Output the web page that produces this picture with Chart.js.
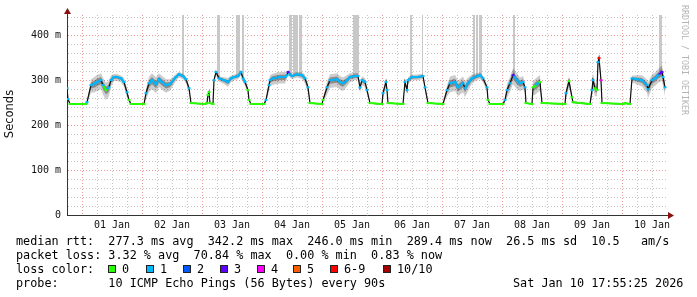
<!DOCTYPE html>
<html>
<head>
<meta charset="utf-8">
<script src="https://cdn.jsdelivr.net/npm/chart.js@4.4.1/dist/chart.umd.min.js"></script>
<style>
  body { margin: 0; background: #fff; }
  canvas { display: block; }
</style>
</head>
<body>
<canvas id="chart" width="697" height="297"></canvas>
<script>
// --- Data (hours since 01 Jan 00:00) ---
const hours = [
  -6.0, -5.6, -4.8, 1.6, 2.0, 3.6, 5.2, 6.0, 7.6, 8.4, 9.6, 10.8, 11.6, 12.8, 14.0, 15.6, 16.8, 18.0, 18.8, 19.6,
  24.8, 25.6, 26.8, 28.0, 29.6, 30.8, 32.0, 33.6, 35.2, 37.6, 38.8, 40.4, 41.6, 42.8, 43.6,
  49.2, 50.0, 50.4, 50.8, 51.2, 52.4, 52.8, 53.6, 54.8, 56.8, 58.4, 59.6, 60.8, 62.4, 63.6, 64.4, 65.2, 66.4, 66.8, 67.6,
  72.8, 73.6, 74.8, 75.2, 76.4, 79.2, 81.2, 82.0, 82.4, 84.0, 86.0, 88.0, 89.2, 90.4, 91.2,
  96.0, 96.4, 98.0, 99.2, 102.0, 103.2, 104.4, 106.0, 107.2, 109.2, 110.4, 111.2, 112.0, 113.2, 114.0, 115.2,
  120.0, 120.4, 121.6, 122.0, 122.4, 128.4, 129.2, 130.0, 130.4, 132.0, 134.0, 136.4, 137.2, 138.4,
  144.4, 146.0, 147.2, 149.2, 150.4, 152.4, 153.2, 154.4, 156.0, 158.0, 159.2, 160.4, 162.0, 162.4, 163.2,
  168.4, 169.2, 170.0, 171.2, 172.4, 174.0, 175.2, 176.4, 177.2, 177.6, 180.0, 180.4, 181.2, 182.4, 183.2, 184.0,
  193.2, 193.6, 194.8, 196.0, 196.4, 203.2, 204.0, 204.4, 205.2, 206.0, 206.4, 206.8, 207.6, 208.0,
  216.4, 217.2, 219.2, 220.0, 222.0, 224.0, 226.0, 226.4, 228.0, 229.2, 230.4, 232.0, 232.4, 233.2
];
// median rtt in ms
const rtt = [
  282, 258, 247, 247, 251, 289, 293, 296, 300, 289, 278, 284, 300, 307, 307, 304, 296, 273, 256, 247,
  247, 271, 293, 300, 291, 302, 296, 289, 291, 307, 313, 309, 302, 282, 249,
  247, 249, 267, 273, 249, 247, 300, 318, 304, 300, 296, 304, 307, 309, 318, 304, 296, 278, 256, 247,
  247, 256, 289, 300, 304, 307, 307, 311, 318, 309, 313, 311, 304, 284, 249,
  247, 256, 284, 300, 302, 296, 293, 300, 307, 309, 309, 284, 300, 296, 278, 249,
  247, 271, 296, 278, 249, 247, 296, 278, 300, 307, 307, 309, 284, 249,
  247, 278, 293, 296, 284, 293, 282, 293, 304, 309, 311, 304, 284, 256, 247,
  247, 256, 278, 293, 311, 300, 293, 296, 284, 249, 247, 284, 287, 293, 296, 249,
  247, 271, 298, 262, 251, 247, 278, 300, 282, 278, 340, 349, 300, 249,
  247, 249, 247, 304, 302, 300, 289, 280, 300, 304, 311, 318, 307, 284
];
// lost pings out of 10
const loss = [
  1, 1, 0, 0, 1, 1, 1, 1, 1, 1, 0, 1, 1, 1, 1, 1, 1, 1, 0, 0,
  0, 1, 1, 1, 1, 1, 1, 1, 1, 1, 1, 1, 1, 1, 0,
  0, 0, 0, 0, 0, 0, 1, 1, 1, 1, 1, 1, 1, 1, 1, 1, 1, 0, 0, 0,
  0, 1, 1, 1, 1, 1, 1, 1, 3, 1, 1, 1, 1, 1, 0,
  0, 0, 1, 1, 1, 1, 1, 1, 1, 1, 1, 1, 1, 1, 1, 0,
  0, 1, 1, 1, 0, 0, 1, 1, 1, 1, 1, 1, 1, 0,
  0, 1, 1, 1, 1, 1, 1, 1, 1, 1, 1, 1, 1, 0, 0,
  0, 1, 1, 1, 3, 1, 1, 1, 1, 0, 0, 0, 0, 1, 0, 0,
  0, 1, 0, 0, 0, 0, 1, 1, 0, 0, 1, 7, 4, 0,
  0, 0, 0, 1, 1, 1, 1, 1, 1, 1, 1, 3, 1, 1
];
// smoke half-spread in ms
const smoke = [
  8, 4, 1, 1, 3, 12, 14, 14, 14, 15, 15, 14, 10, 6, 6, 6, 8, 8, 4, 1,
  1, 10, 14, 14, 14, 12, 12, 12, 10, 6, 5, 5, 6, 6, 1,
  1, 1, 6, 6, 1, 1, 4, 5, 5, 6, 8, 6, 5, 5, 5, 6, 6, 6, 3, 1,
  1, 4, 10, 10, 10, 10, 10, 6, 5, 5, 5, 6, 8, 8, 1,
  1, 4, 12, 12, 12, 12, 12, 10, 8, 6, 6, 8, 8, 8, 6, 1,
  1, 8, 8, 6, 1, 1, 6, 6, 6, 5, 5, 5, 6, 1,
  1, 10, 14, 14, 14, 14, 14, 12, 8, 6, 6, 6, 6, 3, 1,
  1, 4, 12, 14, 14, 14, 12, 12, 8, 1, 1, 12, 14, 14, 14, 1,
  1, 10, 10, 6, 2, 1, 12, 14, 12, 10, 8, 8, 8, 1,
  1, 2, 1, 6, 8, 10, 12, 14, 12, 12, 12, 14, 14, 14
];

// Light grey columns where the smoke runs off the top of the graph
const spikeFrom = [40.0, 54.0, 61.6, 64.0, 82.8, 84.4, 86.8, 108.4, 131.2, 136.0, 156.4, 157.6, 158.8, 172.4, 230.8];
const spikeTo   = [40.8, 55.2, 63.2, 64.8, 84.0, 86.4, 88.0, 110.8, 132.0, 136.4, 157.2, 158.4, 160.0, 173.2, 232.0];
const spikeBase = [309, 304, 309, 304, 309, 313, 311, 309, 307, 309, 309, 309, 311, 311, 318];

const lossLabels = ['0', '1', '2', '3', '4', '5', '6-9', '10/10'];
const lossColors = ['#26ff00', '#00b8ff', '#0059ff', '#5e00ff', '#ff00fe', '#ff5e00', '#ff0000', '#a10000'];

const statLines = [
  'median rtt:  277.3 ms avg  342.2 ms max  246.0 ms min  289.4 ms now  26.5 ms sd  10.5   am/s',
  'packet loss: 3.32 % avg  70.84 % max  0.00 % min  0.83 % now',
  'loss color:',
  'probe:       10 ICMP Echo Pings (56 Bytes) every 90s'
];
const stampText = 'Sat Jan 10 17:55:25 2026';

const X_MIN = -6, X_MAX = 234, Y_MAX = 445;
const MONO = '"DejaVu Sans Mono", monospace';
const MAJOR_GRID = 'rgba(225,110,110,0.7)';
const MINOR_GRID = '#c6c6c6';

function lossColor(n) {
  if (n >= 10) return lossColors[7];
  if (n >= 6) return lossColors[6];
  return lossColors[n];
}

function dayLabel(h) {
  const d = Math.floor(h / 24) + 1;
  return (d < 10 ? '0' + d : '' + d) + ' Jan';
}

const median = hours.map((h, i) => ({ x: h, y: rtt[i] }));
const band = (k) => [
  hours.map((h, i) => ({ x: h, y: rtt[i] + smoke[i] * k })),
  hours.map((h, i) => ({ x: h, y: rtt[i] - smoke[i] * k * 1.3 }))
];
const [innerHi, innerLo] = band(0.5);
const [outerHi, outerLo] = band(1.1);

const datasets = [
  {
    // loss coloured median
    data: median,
    borderWidth: 2,
    pointStyle: 'line',
    pointRadius: 1.5,
    pointBorderWidth: 2,
    pointBorderColor: ctx => lossColor(loss[ctx.dataIndex]),
    segment: {
      borderColor: ctx => {
        const dx = Math.abs(ctx.p1.x - ctx.p0.x);
        const dy = Math.abs(ctx.p1.y - ctx.p0.y);
        if (dy > 2 * dx) return 'transparent';
        return lossColor(loss[ctx.p1DataIndex]);
      }
    },
    fill: false
  },
  { data: median, borderColor: '#111', borderWidth: 1.2, pointRadius: 0, fill: false },
  { data: innerHi, borderColor: 'transparent', borderWidth: 0, pointRadius: 0, fill: '+1', backgroundColor: 'rgba(0,0,0,0.32)' },
  { data: innerLo, borderColor: 'transparent', borderWidth: 0, pointRadius: 0, fill: false },
  { data: outerHi, borderColor: 'transparent', borderWidth: 0, pointRadius: 0, fill: '+1', backgroundColor: 'rgba(0,0,0,0.2)' },
  { data: outerLo, borderColor: 'transparent', borderWidth: 0, pointRadius: 0, fill: false }
];

spikeFrom.forEach((s, i) => {
  datasets.push({
    data: [{ x: s, y: Y_MAX }, { x: spikeTo[i], y: Y_MAX }],
    borderColor: 'transparent',
    borderWidth: 0,
    pointRadius: 0,
    backgroundColor: '#c8c8c8',
    fill: { value: spikeBase[i] }
  });
});

// Arrows, side labels and the stats block under the graph
const decorations = {
  id: 'decorations',
  afterDraw(chart) {
    const ctx = chart.ctx;
    const a = chart.chartArea;
    ctx.save();

    // axis arrows
    ctx.fillStyle = '#8b1010';
    ctx.strokeStyle = '#333';
    ctx.lineWidth = 1;
    ctx.beginPath();
    ctx.moveTo(a.left + 0.5, a.top);
    ctx.lineTo(a.left + 0.5, a.top - 2);
    ctx.moveTo(a.right, a.bottom + 0.5);
    ctx.lineTo(a.right + 2, a.bottom + 0.5);
    ctx.stroke();
    ctx.beginPath();
    ctx.moveTo(a.left - 3, a.top - 1);
    ctx.lineTo(a.left + 4, a.top - 1);
    ctx.lineTo(a.left + 0.5, a.top - 7);
    ctx.closePath();
    ctx.fill();
    ctx.beginPath();
    ctx.moveTo(a.right + 1, a.bottom - 3);
    ctx.lineTo(a.right + 1, a.bottom + 4);
    ctx.lineTo(a.right + 7, a.bottom + 0.5);
    ctx.closePath();
    ctx.fill();

    // y axis title
    ctx.fillStyle = '#111';
    ctx.font = '11.5px "DejaVu Sans", sans-serif';
    ctx.textAlign = 'center';
    ctx.textBaseline = 'middle';
    ctx.save();
    ctx.translate(10, 114);
    ctx.rotate(-Math.PI / 2);
    ctx.fillText('Seconds', 0, 0);
    ctx.restore();

    // watermark
    ctx.save();
    ctx.fillStyle = '#b4b4b4';
    ctx.font = '8.3px ' + MONO;
    ctx.textAlign = 'left';
    ctx.translate(684, 5);
    ctx.rotate(Math.PI / 2);
    ctx.fillText('RRDTOOL / TOBI OETIKER', 0, 0);
    ctx.restore();

    // stats
    ctx.fillStyle = '#000';
    ctx.font = '11.8px ' + MONO;
    ctx.textAlign = 'left';
    ctx.textBaseline = 'alphabetic';
    const rowY = [245, 259, 273, 287];
    statLines.forEach((t, i) => ctx.fillText(t, 16, rowY[i]));
    ctx.fillText(stampText, 513, rowY[3]);

    const boxX = [108, 146, 183, 220, 257, 293, 330, 383];
    lossLabels.forEach((lbl, i) => {
      ctx.fillStyle = lossColors[i];
      ctx.fillRect(boxX[i], 265, 8, 8);
      ctx.strokeStyle = '#222';
      ctx.strokeRect(boxX[i] + 0.5, 265.5, 7, 7);
      ctx.fillStyle = '#000';
      ctx.fillText(lbl, boxX[i] + 14, rowY[2]);
    });
    ctx.restore();
  }
};

new Chart(document.getElementById('chart'), {
  type: 'line',
  data: { datasets },
  options: {
    responsive: false,
    animation: false,
    layout: { padding: { left: 0, top: 15, right: 30, bottom: 62 } },
    plugins: { legend: { display: false }, tooltip: { enabled: false } },
    scales: {
      x: {
        type: 'linear',
        min: X_MIN,
        max: X_MAX,
        afterBuildTicks: s => {
          const t = [];
          for (let h = 0; h <= 228; h += 6) t.push({ value: h });
          s.ticks = t;
        },
        afterFit: s => { s.height = 20; },
        ticks: {
          autoSkip: false,
          maxRotation: 0,
          padding: 4,
          color: '#111',
          font: { family: MONO, size: 10 },
          callback: v => (v % 24 === 12 ? dayLabel(v) : '')
        },
        grid: {
          drawTicks: false,
          lineWidth: 1,
          color: ctx => (ctx.tick && ctx.tick.value % 24 === 0 ? MAJOR_GRID : MINOR_GRID)
        },
        border: { color: '#333', width: 1, dash: [1, 2] }
      },
      y: {
        min: 0,
        max: Y_MAX,
        afterBuildTicks: s => {
          const t = [];
          for (let v = 0; v <= 440; v += 20) t.push({ value: v });
          s.ticks = t;
        },
        afterFit: s => { s.width = 67; },
        ticks: {
          autoSkip: false,
          padding: 6,
          color: '#111',
          font: { family: MONO, size: 10 },
          callback: v => (v % 100 ? '' : (v === 0 ? '0' : v + ' m'))
        },
        grid: {
          drawTicks: false,
          lineWidth: 1,
          color: ctx => (ctx.tick && ctx.tick.value % 100 === 0 ? MAJOR_GRID : MINOR_GRID)
        },
        border: { color: '#333', width: 1, dash: [1, 2] }
      }
    }
  },
  plugins: [decorations]
});
</script>
</body>
</html>
